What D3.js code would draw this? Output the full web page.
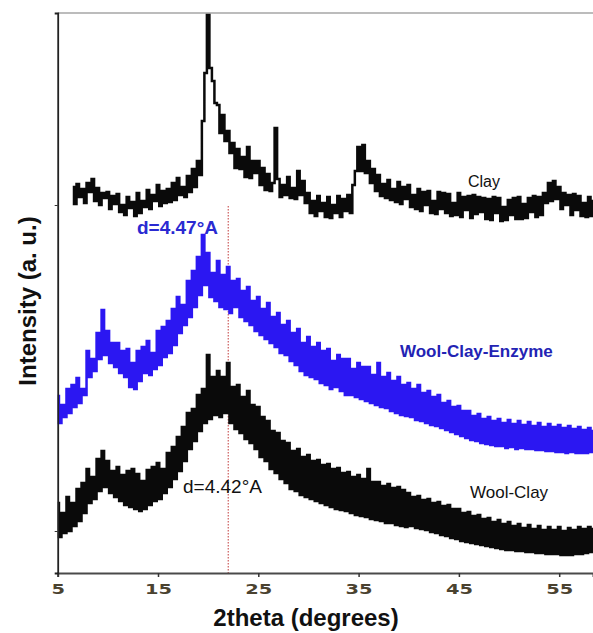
<!DOCTYPE html>
<html>
<head>
<meta charset="utf-8">
<script src="https://cdn.jsdelivr.net/npm/d3@7"></script>
<style>
  body { margin: 0; background: #fff; }
  svg { display: block; }
</style>
</head>
<body>
<div id="chart"></div>
<script>
// XRD scans, 2theta step 0.25 deg, intensity in arbitrary units
var step = 0.25;
var clayStart = 6.5;
var woolStart = 5;

var clayValues = [
  386, 369,
  389, 376, 384, 370,
  390, 381, 394, 372,
  385, 368, 380, 375,
  381, 364, 377, 369,
  379, 361, 368, 358,
  376, 365, 371, 357,
  380, 360, 372, 366,
  383, 364, 378, 372,
  388, 367, 382, 370,
  384, 371, 390, 373,
  395, 378, 386, 376,
  397, 381, 404, 386,
  412, 398, 452, 500,
  558, 505, 492, 470,
  468, 440, 458, 432,
  442, 420, 430, 405,
  424, 404, 416, 396,
  426, 395, 412, 400,
  412, 388, 405, 383,
  399, 382, 390, 445,
  394, 376, 388, 378,
  396, 375, 385, 374,
  402, 378, 392, 370,
  380, 360, 372, 357,
  377, 362, 370, 356,
  376, 355, 368, 360,
  377, 356, 374, 362,
  378, 360, 388, 402,
  426, 402, 428, 400,
  412, 390, 404, 382,
  398, 377, 389, 375,
  393, 373, 384, 371,
  391, 369, 386, 374,
  388, 366, 378, 364,
  384, 362, 381, 368,
  382, 360, 372, 359,
  381, 364, 380, 360,
  379, 357, 370, 358,
  380, 356, 376, 363,
  377, 355, 378, 359,
  376, 361, 375, 354,
  374, 353, 376, 360,
  375, 352, 366, 353,
  373, 358, 375, 354,
  376, 354, 369, 355,
  375, 361, 377, 356,
  376, 358, 380, 370,
  390, 372, 392, 374,
  386, 364, 380, 368,
  378, 358, 379, 363,
  377, 357, 370, 356,
  376, 357, 372
];

var woolClayEnzymeValues = [
  177, 150, 168, 156,
  184, 160, 188, 166,
  195, 170, 184, 178,
  222, 196, 214, 202,
  240, 214, 263, 218,
  242, 210, 230, 206,
  230, 200, 222, 196,
  224, 186, 210, 184,
  222, 192, 226, 200,
  232, 198, 220, 204,
  242, 208, 246, 216,
  252, 220, 264, 228,
  276, 240, 268, 248,
  292, 256, 302, 266,
  316, 278, 338, 288,
  320, 276, 300, 272,
  312, 266, 298, 264,
  306, 260, 292, 266,
  294, 256, 282, 252,
  286, 248, 272, 242,
  276, 238, 264, 234,
  270, 230, 256, 226,
  260, 220, 248, 218,
  252, 212, 240, 208,
  244, 202, 230, 198,
  236, 196, 226, 194,
  230, 190, 222, 188,
  224, 184, 212, 186,
  218, 182, 214, 178,
  214, 178, 204, 176,
  210, 174, 206, 172,
  206, 170, 198, 168,
  210, 166, 196, 165,
  200, 162, 192, 160,
  196, 158, 188, 157,
  190, 156, 184, 153,
  188, 152, 180, 150,
  182, 148, 176, 147,
  178, 145, 170, 143,
  172, 141, 166, 139,
  167, 137, 162, 135,
  162, 133, 157, 132,
  159, 130, 154, 129,
  156, 128, 152, 127,
  154, 127, 150, 125,
  153, 126, 149, 124,
  152, 125, 148, 124,
  151, 124, 147, 123,
  150, 123, 146, 122,
  149, 122, 146, 121,
  148, 121, 145, 120,
  147, 121, 144, 120,
  146, 120, 143, 120,
  145, 121, 142
];

var woolClayValues = [
  70, 36, 60, 40,
  76, 42, 70, 47,
  84, 52, 90, 60,
  104, 70, 96, 74,
  114, 82, 122, 86,
  112, 80, 102, 76,
  106, 72, 98, 68,
  102, 66, 104, 64,
  99, 62, 92, 64,
  103, 68, 106, 72,
  110, 74, 104, 80,
  120, 86, 126, 94,
  136, 102, 146, 112,
  160, 124, 164, 132,
  178, 142, 184, 150,
  218, 154, 196, 158,
  202, 156, 196, 160,
  210, 150, 186, 144,
  188, 140, 176, 134,
  182, 130, 168, 124,
  166, 116, 156, 112,
  152, 104, 142, 100,
  140, 94, 132, 90,
  130, 84, 122, 82,
  124, 78, 116, 76,
  118, 74, 112, 72,
  113, 70, 108, 68,
  109, 66, 104, 64,
  105, 63, 100, 62,
  101, 60, 96, 58,
  98, 57, 94, 56,
  104, 54, 91, 53,
  91, 52, 87, 50,
  89, 50, 85, 48,
  86, 47, 83, 46,
  80, 47, 76, 45,
  77, 44, 73, 43,
  74, 41, 70, 40,
  71, 38, 67, 37,
  68, 35, 64, 34,
  64, 32, 60, 31,
  61, 30, 57, 29,
  58, 28, 54, 27,
  55, 26, 51, 25,
  53, 24, 49, 23,
  51, 23, 47, 22,
  49, 22, 45, 21,
  48, 21, 44, 20,
  47, 20, 43, 19,
  46, 19, 43, 19,
  46, 18, 42, 18,
  45, 18, 43, 19,
  46, 19, 44, 20,
  46, 21, 44
];

var xTicks = [5, 15, 25, 35, 45, 55];
var yMarks = [368, 42];      // small baseline ticks on the left axis
var dSpacingAt = 22;         // 2theta of the dotted reference line

var width = 593, height = 633;
var mLeft = 57.7, mRight = 593, mTop = 13, mBottom = 573;

var svg = d3.select("#chart").append("svg")
    .attr("width", width)
    .attr("height", height);

var x = d3.scaleLinear().domain([5, 58.37]).range([mLeft, mRight]);
var y = d3.scaleLinear().domain([0, 560]).range([mBottom, mTop]);

function toPoints(vals, start) {
    return vals.map(function (v, i) { return [start + i * step, v]; });
}

// step curve gives the vertical-spike look of the raw counts
var line = d3.line()
    .curve(d3.curveStep)
    .x(function (d) { return x(d[0]); })
    .y(function (d) { return y(d[1]); });

// frame: top border
svg.append("line")
    .attr("x1", mLeft).attr("x2", mRight)
    .attr("y1", mTop).attr("y2", mTop)
    .attr("stroke", "#7a7a7a").attr("stroke-width", 1.2);

// dotted d-spacing line
svg.append("line")
    .attr("x1", x(dSpacingAt)).attr("x2", x(dSpacingAt))
    .attr("y1", 206).attr("y2", mBottom)
    .attr("stroke", "#c23a3a")
    .attr("stroke-width", 1)
    .attr("stroke-dasharray", "1.5,1.5");

var series = [
    { vals: clayValues, start: clayStart, color: "#0a0a0a" },
    { vals: woolClayEnzymeValues, start: woolStart, color: "#2b17f2" },
    { vals: woolClayValues, start: woolStart, color: "#0a0a0a" }
];

svg.selectAll(".scan")
    .data(series)
    .enter().append("path")
    .attr("class", "scan")
    .attr("d", function (d) { return line(toPoints(d.vals, d.start)); })
    .attr("fill", "none")
    .attr("stroke", function (d) { return d.color; })
    .attr("stroke-width", 2.5);

// x axis
var xAxis = d3.axisBottom(x).tickValues(xTicks).tickSize(4).tickPadding(7);
var gx = svg.append("g")
    .attr("transform", "translate(0," + mBottom + ")")
    .call(xAxis);
gx.select(".domain").attr("stroke", "#4a4a4a").attr("stroke-width", 2);
gx.selectAll(".tick line").attr("stroke", "#333").attr("stroke-width", 1.5);
gx.selectAll(".tick text")
    .attr("fill", "#4a4230")
    .attr("font-family", "DejaVu Sans, sans-serif")
    .attr("font-weight", "bold")
    .attr("font-size", "14px")
    .attr("textLength", function (d) { return String(d).length * 13.5; })
    .attr("lengthAdjust", "spacingAndGlyphs");

// left axis
var yAxis = d3.axisLeft(y).tickValues(yMarks).tickSize(3).tickFormat("");
var gy = svg.append("g")
    .attr("transform", "translate(" + mLeft + ",0)")
    .call(yAxis);
gy.select(".domain").attr("stroke", "#222").attr("stroke-width", 1.8);
gy.selectAll(".tick line").attr("stroke", "#333");

// axis titles
svg.append("text")
    .attr("x", 306).attr("y", 626)
    .attr("text-anchor", "middle")
    .attr("font-family", "Liberation Sans, Arial, sans-serif")
    .attr("font-weight", "bold")
    .attr("font-size", "24px")
    .attr("fill", "#111")
    .text("2theta (degrees)");

svg.append("text")
    .attr("transform", "translate(36,301) rotate(-90)")
    .attr("text-anchor", "middle")
    .attr("font-family", "Liberation Sans, Arial, sans-serif")
    .attr("font-weight", "bold")
    .attr("font-size", "24px")
    .attr("fill", "#111")
    .text("Intensity (a. u.)");

// curve labels
var labels = [
    { t: "Clay", x: 468, y: 187, c: "#111", w: "normal", s: 16 },
    { t: "Wool-Clay-Enzyme", x: 400, y: 357, c: "#2323b4", w: "bold", s: 17 },
    { t: "Wool-Clay", x: 470, y: 498, c: "#111", w: "normal", s: 17 },
    { t: "d=4.47\u00b0A", x: 137, y: 234, c: "#2a2ad2", w: "bold", s: 19 },
    { t: "d=4.42\u00b0A", x: 183, y: 493, c: "#111", w: "normal", s: 19 }
];

svg.selectAll(".lbl")
    .data(labels)
    .enter().append("text")
    .attr("class", "lbl")
    .attr("x", function (d) { return d.x; })
    .attr("y", function (d) { return d.y; })
    .attr("font-family", "Liberation Sans, Arial, sans-serif")
    .attr("font-weight", function (d) { return d.w; })
    .attr("font-size", function (d) { return d.s + "px"; })
    .attr("fill", function (d) { return d.c; })
    .text(function (d) { return d.t; });
</script>
</body>
</html>
